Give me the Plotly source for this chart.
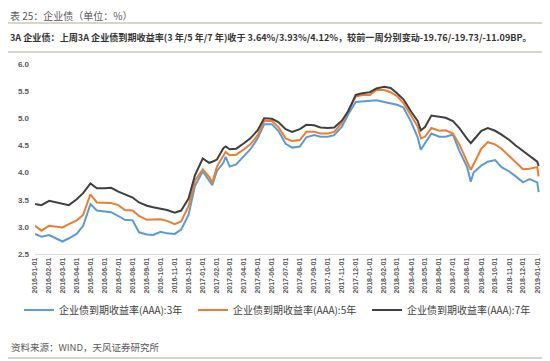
import plotly.graph_objects as go

dates = [
    "2016-01-01", "2016-01-15", "2016-02-01", "2016-02-15", "2016-03-01", "2016-03-15",
    "2016-04-01", "2016-04-15", "2016-05-01", "2016-05-15", "2016-06-01", "2016-06-15",
    "2016-07-01", "2016-07-15", "2016-08-01", "2016-08-15", "2016-09-01", "2016-09-15",
    "2016-10-01", "2016-10-15", "2016-11-01", "2016-11-15", "2016-12-01", "2016-12-15",
    "2017-01-01", "2017-01-15", "2017-01-22", "2017-02-01", "2017-02-15", "2017-02-20",
    "2017-03-01", "2017-03-15", "2017-04-01", "2017-04-15", "2017-05-01", "2017-05-15",
    "2017-06-01", "2017-06-15", "2017-07-01", "2017-07-15", "2017-08-01", "2017-08-15",
    "2017-09-01", "2017-09-15", "2017-10-01", "2017-10-15", "2017-11-01", "2017-11-15",
    "2017-12-01", "2017-12-15", "2018-01-01", "2018-01-15", "2018-02-01", "2018-02-15",
    "2018-03-01", "2018-03-15", "2018-04-01", "2018-04-15", "2018-04-22", "2018-05-01",
    "2018-05-15", "2018-06-01", "2018-06-15", "2018-07-01", "2018-07-15", "2018-08-01",
    "2018-08-09", "2018-08-15", "2018-09-01", "2018-09-15", "2018-10-01", "2018-10-15",
    "2018-11-01", "2018-11-15", "2018-12-01", "2018-12-15", "2019-01-01", "2019-01-04",
]

yield_3y = [
    2.87, 2.82, 2.85, 2.79, 2.73, 2.79,
    2.87, 3.02, 3.42, 3.30, 3.28, 3.27,
    3.20, 3.13, 3.12, 2.90, 2.86, 2.85,
    2.91, 2.88, 2.87, 2.95, 3.22, 3.75,
    4.02, 3.85, 3.77, 4.03, 4.18, 4.29,
    4.11, 4.15, 4.30, 4.43, 4.63, 4.89,
    4.89, 4.77, 4.53, 4.46, 4.48, 4.65,
    4.69, 4.66, 4.66, 4.69, 4.85, 5.08,
    5.30, 5.31, 5.31, 5.33, 5.30, 5.27,
    5.25, 5.20, 4.93, 4.65, 4.42, 4.54,
    4.72, 4.66, 4.66, 4.70, 4.40, 4.10,
    3.83, 4.00, 4.13, 4.20, 4.23, 4.10,
    4.02, 3.93, 3.82, 3.88, 3.82, 3.64,
]

yield_5y = [
    3.02, 2.93, 3.02, 3.00, 2.99, 3.05,
    3.12, 3.22, 3.60, 3.45, 3.45, 3.44,
    3.40, 3.31, 3.30, 3.20, 3.13, 3.14,
    3.14, 3.11, 3.05, 3.10, 3.38, 3.85,
    4.06, 3.92, 3.81, 4.11, 4.33, 4.38,
    4.32, 4.33, 4.43, 4.52, 4.69, 4.95,
    4.95, 4.84, 4.63, 4.58, 4.60, 4.75,
    4.75, 4.72, 4.72, 4.75, 4.92, 5.15,
    5.40, 5.43, 5.43, 5.52, 5.52, 5.48,
    5.41, 5.28, 5.04, 4.85, 4.63, 4.66,
    4.82, 4.77, 4.78, 4.72, 4.52, 4.22,
    4.05, 4.15, 4.44, 4.56, 4.52, 4.44,
    4.30, 4.20, 4.06, 4.07, 4.10, 3.93,
]

yield_7y = [
    3.42, 3.40, 3.48, 3.45, 3.42, 3.40,
    3.51, 3.62, 3.80, 3.71, 3.71, 3.72,
    3.65, 3.60, 3.54, 3.45, 3.39, 3.36,
    3.34, 3.31, 3.26, 3.30, 3.52, 3.95,
    4.26, 4.18, 4.20, 4.24, 4.45, 4.48,
    4.43, 4.44, 4.54, 4.63, 4.78, 5.00,
    4.99, 4.93, 4.80, 4.75, 4.80, 4.88,
    4.87, 4.83, 4.82, 4.83, 4.96, 5.14,
    5.43, 5.46, 5.48, 5.55, 5.58, 5.56,
    5.46, 5.35, 5.12, 4.95, 4.78, 4.84,
    5.05, 5.03, 5.01, 4.95, 4.82, 4.62,
    4.54, 4.60, 4.77, 4.82, 4.77, 4.70,
    4.60, 4.50, 4.40, 4.32, 4.20, 4.12,
]

series_names = ["企业债到期收益率(AAA):3年", "企业债到期收益率(AAA):5年", "企业债到期收益率(AAA):7年"]
series_colors = ["#5B9BD5", "#ED7D31", "#404040"]
tick_dates = [f"{y}-{m:02d}-01" for y in (2016, 2017, 2018) for m in range(1, 13)] + ["2019-01-01"]

fig = go.Figure()
for name, vals, col in zip(series_names, [yield_3y, yield_5y, yield_7y], series_colors):
    fig.add_trace(go.Scatter(x=dates, y=vals, mode="lines", name=name,
                             line=dict(color=col, width=2)))

# The page body adds an 8px margin, so the figure is 8px smaller than the window
OFF = 8
W, H = 550 - OFF, 361 - OFF
L, R, T, B = 27, 10, 56, 107
pw, ph = W - L - R, H - T - B

def px_x(x):  # page pixel -> paper
    return (x - OFF - L) / pw

def px_y(y):
    return (H - B - (y - OFF)) / ph

gray = "#595959"
fig.update_layout(
    width=W, height=H,
    margin=dict(l=L, r=R, t=T, b=B, autoexpand=False),
    paper_bgcolor="white", plot_bgcolor="white",
    font=dict(family="Noto Sans CJK SC, Arial", color=gray),
    showlegend=True,
    legend=dict(orientation="h", x=px_x(19), y=px_y(310), xanchor="left", yanchor="middle",
                font=dict(size=10, color="#404040", family="Noto Sans CJK SC, Arial"),
                entrywidth=129, entrywidthmode="pixels", tracegroupgap=0,
                bgcolor="rgba(0,0,0,0)"),
    xaxis=dict(type="date", range=["2016-01-01", "2019-01-07"],
               tickvals=tick_dates, ticktext=tick_dates, tickangle=-90,
               tickfont=dict(size=7, color=gray, family="Liberation Sans, Arial", weight="bold"),
               showgrid=False, zeroline=False, showline=True, linecolor="#d9d9d9", linewidth=1,
               ticks="", fixedrange=True, automargin=False),
    yaxis=dict(range=[2.5, 6.0], dtick=0.5, tick0=2.5, tickformat=".1f",
               tickfont=dict(size=8, color=gray, family="Liberation Sans, Arial", weight="bold"),
               showgrid=False, zeroline=False, showline=False, ticks="", ticklabelstandoff=5,
               fixedrange=True, automargin=False),
)

line_col = "#c9c9b8"
for yy in (23, 52, 358):
    fig.add_shape(type="line", xref="paper", yref="paper",
                  x0=px_x(8), x1=px_x(545), y0=px_y(yy), y1=px_y(yy),
                  line=dict(color=line_col, width=1.5))

fig.add_annotation(text="表 25：企业债（单位：%）", xref="paper", yref="paper",
                   x=px_x(9), y=px_y(15), xanchor="left", yanchor="middle", showarrow=False,
                   borderpad=0,
                   font=dict(size=10, color=gray, family="Noto Sans CJK SC"))
fig.add_annotation(text="<b>3A 企业债：上周3A 企业债到期收益率(3 年/5 年/7 年)收于 3.64%/3.93%/4.12%，较前一周分别变动-19.76/-19.73/-11.09BP。</b>",
                   xref="paper", yref="paper",
                   x=px_x(8), y=px_y(37), xanchor="left", yanchor="middle", showarrow=False,
                   font=dict(size=9.1, color="#333333", family="Noto Sans CJK SC"))
fig.add_annotation(text="资料来源：WIND，天风证券研究所", xref="paper", yref="paper",
                   x=px_x(9), y=px_y(347), xanchor="left", yanchor="middle", showarrow=False,
                   font=dict(size=9.5, color=gray, family="Noto Sans CJK SC"))

fig.write_html("out.html")
